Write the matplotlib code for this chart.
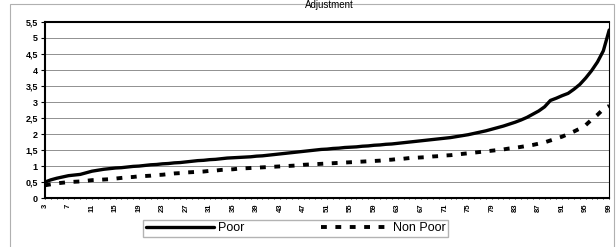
import numpy as np
import matplotlib.pyplot as plt
from matplotlib.patches import Rectangle

# percentile categories 3..99
cats = list(range(3, 100))

poor = [0.50, 0.57, 0.62, 0.66, 0.70, 0.72, 0.74, 0.79, 0.84, 0.87,
        0.90, 0.92, 0.94, 0.95, 0.97, 0.99, 1.00, 1.02, 1.04, 1.05,
        1.07, 1.08, 1.10, 1.11, 1.13, 1.15, 1.17, 1.18, 1.20, 1.21,
        1.23, 1.25, 1.26, 1.27, 1.28, 1.29, 1.31, 1.32, 1.34, 1.36,
        1.38, 1.40, 1.42, 1.44, 1.46, 1.48, 1.50, 1.52, 1.53, 1.55,
        1.56, 1.58, 1.59, 1.60, 1.62, 1.63, 1.65, 1.66, 1.68, 1.69,
        1.71, 1.73, 1.75, 1.77, 1.79, 1.81, 1.83, 1.85, 1.87, 1.89,
        1.92, 1.95, 1.98, 2.02, 2.06, 2.10, 2.15, 2.20, 2.25, 2.31,
        2.37, 2.44, 2.52, 2.62, 2.72, 2.85, 3.05, 3.12, 3.20, 3.27,
        3.40, 3.55, 3.75, 3.98, 4.25, 4.60, 5.25]

non_poor = [0.40, 0.43, 0.46, 0.48, 0.50, 0.51, 0.52, 0.54, 0.56, 0.57,
            0.58, 0.59, 0.61, 0.63, 0.65, 0.66, 0.68, 0.69, 0.70, 0.72,
            0.73, 0.75, 0.77, 0.78, 0.80, 0.81, 0.82, 0.83, 0.85, 0.86,
            0.88, 0.89, 0.90, 0.92, 0.93, 0.94, 0.95, 0.96, 0.97, 0.98,
            0.99, 1.00, 1.01, 1.02, 1.04, 1.05, 1.06, 1.07, 1.08, 1.09,
            1.10, 1.11, 1.12, 1.13, 1.14, 1.15, 1.16, 1.17, 1.19, 1.20,
            1.22, 1.23, 1.25, 1.26, 1.27, 1.28, 1.30, 1.31, 1.33, 1.34,
            1.36, 1.38, 1.40, 1.42, 1.44, 1.46, 1.48, 1.50, 1.52, 1.55,
            1.57, 1.60, 1.63, 1.66, 1.70, 1.74, 1.80, 1.86, 1.92, 2.00,
            2.08, 2.17, 2.28, 2.45, 2.60, 2.78, 2.88]

yticks = [0, 0.5, 1, 1.5, 2, 2.5, 3, 3.5, 4, 4.5, 5, 5.5]
ylabels = ["0", "0,5", "1", "1,5", "2", "2,5", "3", "3,5", "4", "4,5", "5", "5,5"]
xticks = cats[::4]

plt.rcParams['font.family'] = ['Liberation Sans', 'DejaVu Sans']

fig = plt.figure(figsize=(6.16, 2.47), dpi=100)
ax = fig.add_axes([0.073, 0.198, 0.916, 0.713])

# outer chart frame
fig.patches.append(Rectangle((0.016, -0.01), 0.98, 0.994, transform=fig.transFigure,
                             fill=False, edgecolor='#b0b0b0', lw=0.8))

ax.plot(cats, poor, color='black', lw=2.4, label='Poor', solid_capstyle='round')
ax.plot(cats, non_poor, color='black', lw=2.8, linestyle=(0, (1.5, 2.2)), label='Non Poor')

ax.set_xlim(3, 99)
ax.set_ylim(0, 5.5)
ax.set_yticks(yticks)
ax.set_yticklabels(ylabels, fontsize=6.5, fontweight='bold')
ax.set_xticks(xticks)
ax.set_xticklabels([str(c) for c in xticks], rotation=90, fontsize=5.5, fontweight='bold')
ax.set_xticks(cats, minor=True)
ax.tick_params(axis='x', which='minor', length=2, direction='inout', width=0.6)
ax.tick_params(axis='x', which='major', length=2, direction='inout', width=0.6, pad=3)
ax.tick_params(axis='y', length=3, width=0.8, pad=2)
ax.grid(axis='y', color='#909090', lw=0.7)
ax.set_axisbelow(True)

for side in ['left', 'bottom', 'top']:
    ax.spines[side].set_linewidth(1.5)
ax.spines['right'].set_linewidth(0.8)

fig.text(0.535, 0.999, "Adjustment", ha='center', va='top', fontsize=7)

fig.legend(loc='lower left', bbox_to_anchor=(0.222, 0.016, 0.516, 0.093), mode='expand',
           ncol=2, fontsize=9, handlelength=5.5, frameon=True, fancybox=False,
           edgecolor='#a0a0a0', borderpad=0.2, handletextpad=0.3, columnspacing=2.5)

fig.savefig('out.png', dpi=100)
